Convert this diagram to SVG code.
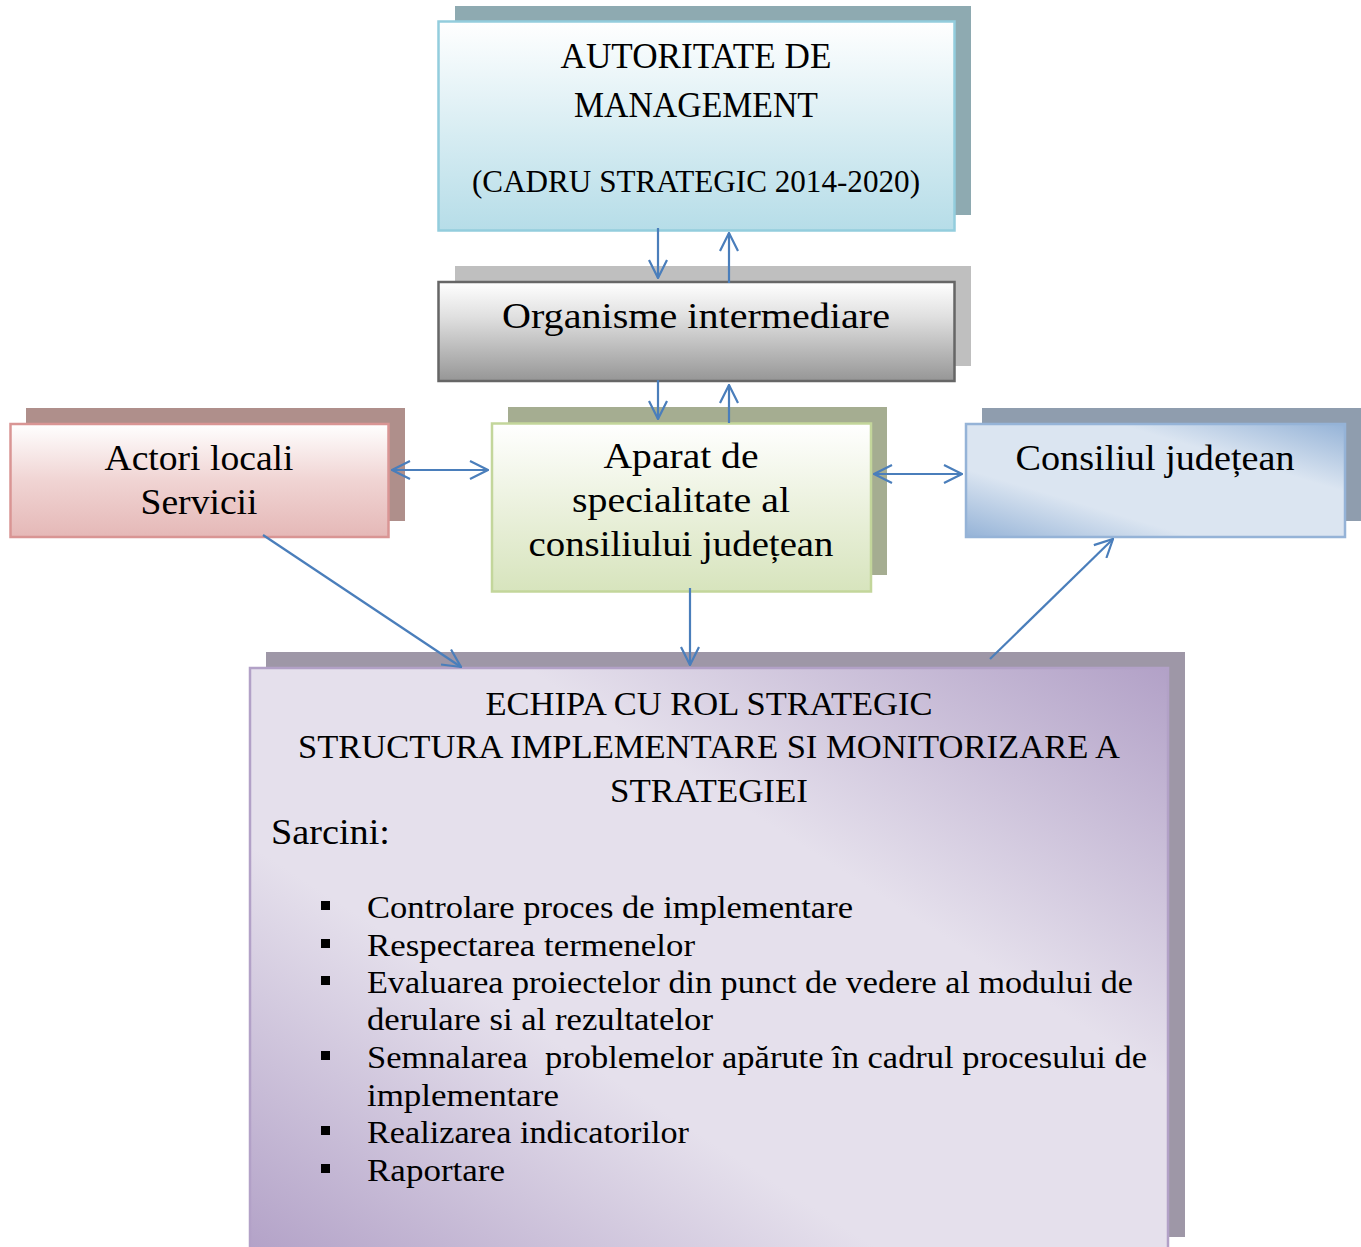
<svg xmlns="http://www.w3.org/2000/svg" width="1361" height="1247" viewBox="0 0 1361 1247">
<defs>
<linearGradient id="gTop" x1="0" y1="0" x2="0" y2="1"><stop offset="0" stop-color="#ffffff"/><stop offset="0.55" stop-color="#d6ecf2"/><stop offset="1" stop-color="#b6dde8"/></linearGradient>
<linearGradient id="gOrg" x1="0" y1="0" x2="0" y2="1"><stop offset="0" stop-color="#ffffff"/><stop offset="0.35" stop-color="#e0e0e0"/><stop offset="1" stop-color="#969696"/></linearGradient>
<linearGradient id="gAct" x1="0" y1="0" x2="0" y2="1"><stop offset="0" stop-color="#ffffff"/><stop offset="0.5" stop-color="#f0d4d3"/><stop offset="1" stop-color="#e5b8b7"/></linearGradient>
<linearGradient id="gApa" x1="0" y1="0" x2="0" y2="1"><stop offset="0" stop-color="#ffffff"/><stop offset="0.5" stop-color="#ebf1dd"/><stop offset="1" stop-color="#d7e4bd"/></linearGradient>
<linearGradient id="gCon" x1="0" y1="1" x2="1" y2="0"><stop offset="0" stop-color="#95b3d7"/><stop offset="0.3" stop-color="#dbe5f1"/><stop offset="0.7" stop-color="#dbe5f1"/><stop offset="1" stop-color="#95b3d7"/></linearGradient>
<linearGradient id="gBig" x1="0" y1="1" x2="1" y2="0"><stop offset="0" stop-color="#b2a1c7"/><stop offset="0.35" stop-color="#e5e0ec"/><stop offset="0.65" stop-color="#e5e0ec"/><stop offset="1" stop-color="#b2a1c7"/></linearGradient>
<marker id="ah" viewBox="0 0 12 12" refX="11" refY="6" markerWidth="12" markerHeight="12" markerUnits="userSpaceOnUse" orient="auto-start-reverse">
<path d="M1,0.5 L11,6 L1,11.5" fill="none" stroke="#4a7ebb" stroke-width="2"/>
</marker>
<marker id="ahL" viewBox="0 0 20 20" refX="19" refY="10" markerWidth="20" markerHeight="20" markerUnits="userSpaceOnUse" orient="auto-start-reverse">
<path d="M1,1 L19,10 L1,19" fill="none" stroke="#4a7ebb" stroke-width="2.2"/>
</marker>
</defs>
<style>
.t{font-family:"Liberation Serif","DejaVu Serif",serif;fill:#000;}
.c{text-anchor:middle;}
.con{stroke:#4a7ebb;stroke-width:2.2;fill:none;marker-end:url(#ahL);}
.dbl{marker-start:url(#ahL);}
</style>
<rect width="1361" height="1247" fill="#fff"/>

<g id="node-autoritate">
<rect x="455" y="6" width="516" height="209" fill="#8eaab1"/>
<rect x="438.5" y="21.5" width="516" height="209" fill="url(#gTop)" stroke="#93cddd" stroke-width="2.5"/>
<text class="t c" x="696" y="68" font-size="36" textLength="271" lengthAdjust="spacingAndGlyphs">AUTORITATE DE</text>
<text class="t c" x="696" y="117" font-size="36" textLength="244" lengthAdjust="spacingAndGlyphs">MANAGEMENT</text>
<text class="t c" x="696" y="192" font-size="32" textLength="448" lengthAdjust="spacingAndGlyphs">(CADRU STRATEGIC 2014-2020)</text>
</g>

<g id="node-organisme">
<rect x="455" y="266" width="516" height="100" fill="#bfbfbf"/>
<rect x="438.5" y="282" width="516" height="99" fill="url(#gOrg)" stroke="#666" stroke-width="2.5"/>
<text class="t c" x="696" y="328" font-size="36" textLength="388" lengthAdjust="spacingAndGlyphs">Organisme intermediare</text>
</g>

<g id="node-actori">
<rect x="26" y="408" width="379" height="113" fill="#af8f8b"/>
<rect x="10.5" y="424" width="378" height="113" fill="url(#gAct)" stroke="#d99594" stroke-width="2.5"/>
<text class="t c" x="199" y="470" font-size="36" textLength="189" lengthAdjust="spacingAndGlyphs">Actori locali</text>
<text class="t c" x="199" y="514" font-size="36" textLength="117" lengthAdjust="spacingAndGlyphs">Servicii</text>
</g>

<g id="node-aparat">
<rect x="508" y="407" width="379" height="168" fill="#a5ad91"/>
<rect x="492" y="423.5" width="379" height="168" fill="url(#gApa)" stroke="#c3d69b" stroke-width="2.5"/>
<text class="t c" x="681" y="468" font-size="36" textLength="155" lengthAdjust="spacingAndGlyphs">Aparat de</text>
<text class="t c" x="681" y="512" font-size="36" textLength="218" lengthAdjust="spacingAndGlyphs">specialitate al</text>
<text class="t c" x="681" y="556" font-size="36" textLength="305" lengthAdjust="spacingAndGlyphs">consiliului județean</text>
</g>

<g id="node-consiliul">
<rect x="982" y="408" width="379" height="113" fill="#8f9dae"/>
<rect x="966" y="424" width="379" height="113" fill="url(#gCon)" stroke="#95b3d7" stroke-width="2.5"/>
<text class="t c" x="1155" y="470" font-size="36" textLength="279" lengthAdjust="spacingAndGlyphs">Consiliul județean</text>
</g>

<g id="node-echipa">
<rect x="266" y="652" width="919" height="585" fill="#9e97a7"/>
<rect x="250" y="668" width="918" height="590" fill="url(#gBig)" stroke="#b2a1c7" stroke-width="2.5"/>
<text class="t c" x="709" y="715" font-size="34" textLength="447" lengthAdjust="spacingAndGlyphs">ECHIPA CU ROL STRATEGIC</text>
<text class="t c" x="709" y="758" font-size="34" textLength="822" lengthAdjust="spacingAndGlyphs">STRUCTURA IMPLEMENTARE SI MONITORIZARE A</text>
<text class="t c" x="709" y="802" font-size="34" textLength="198" lengthAdjust="spacingAndGlyphs">STRATEGIEI</text>
<text class="t" x="271" y="844" font-size="36" textLength="119" lengthAdjust="spacingAndGlyphs">Sarcini:</text>
<g fill="#000">
<rect x="321" y="901" width="9" height="9"/>
<rect x="321" y="939" width="9" height="9"/>
<rect x="321" y="976" width="9" height="9"/>
<rect x="321" y="1051" width="9" height="9"/>
<rect x="321" y="1126" width="9" height="9"/>
<rect x="321" y="1164" width="9" height="9"/>
</g>
<text class="t" x="367" y="918" font-size="31" textLength="486" lengthAdjust="spacingAndGlyphs">Controlare proces de implementare</text>
<text class="t" x="367" y="956" font-size="31" textLength="328" lengthAdjust="spacingAndGlyphs">Respectarea termenelor</text>
<text class="t" x="367" y="993" font-size="31" textLength="766" lengthAdjust="spacingAndGlyphs">Evaluarea proiectelor din punct de vedere al modului de</text>
<text class="t" x="367" y="1030" font-size="31" textLength="346" lengthAdjust="spacingAndGlyphs">derulare si al rezultatelor</text>
<text class="t" x="367" y="1068" font-size="31" textLength="780" lengthAdjust="spacingAndGlyphs" xml:space="preserve">Semnalarea  problemelor apărute în cadrul procesului de</text>
<text class="t" x="367" y="1106" font-size="31" textLength="192" lengthAdjust="spacingAndGlyphs">implementare</text>
<text class="t" x="367" y="1143" font-size="31" textLength="322" lengthAdjust="spacingAndGlyphs">Realizarea indicatorilor</text>
<text class="t" x="367" y="1181" font-size="31" textLength="138" lengthAdjust="spacingAndGlyphs">Raportare</text>
</g>

<g id="connectors">
<line class="con" x1="658" y1="228" x2="658" y2="278"/>
<line class="con" x1="729" y1="283" x2="729" y2="233"/>
<line class="con" x1="658" y1="380" x2="658" y2="419"/>
<line class="con" x1="729" y1="423" x2="729" y2="385"/>
<line class="con dbl" x1="392" y1="470" x2="488" y2="470"/>
<line class="con dbl" x1="874" y1="474" x2="962" y2="474"/>
<line class="con" x1="263" y1="535" x2="461" y2="667"/>
<line class="con" x1="690" y1="588" x2="690" y2="665"/>
<line class="con" x1="990" y1="659" x2="1113" y2="539"/>
</g>
</svg>
